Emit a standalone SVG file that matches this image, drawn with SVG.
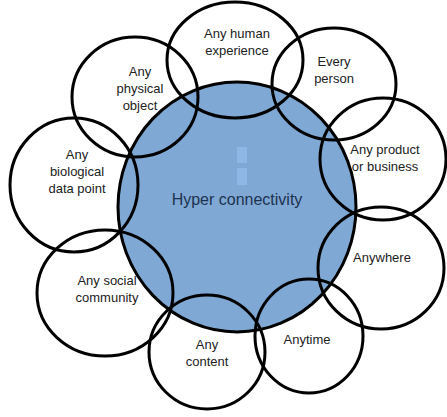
<svg xmlns="http://www.w3.org/2000/svg" width="447" height="417" viewBox="0 0 447 417">
  <style>
    .ring { fill: none; stroke: #000; stroke-width: 3; }
    .hub { fill: #80a8d4; stroke: #000; stroke-width: 3; }
    .lbl { font-family: "Liberation Sans", Arial, sans-serif; font-size: 13px; fill: #222; text-anchor: middle; }
    .hubl { font-family: "Liberation Sans", Arial, sans-serif; font-size: 16px; fill: #1c3350; text-anchor: middle; }
    .tick { fill: #8db8e6; }
  </style>
  <rect width="447" height="417" fill="#fff"/>

  <!-- central hub -->
  <g id="hub">
    <ellipse class="hub" cx="237" cy="207" rx="119" ry="125"/>
    <rect class="tick" x="237" y="147" width="10" height="16"/>
    <rect class="tick" x="237" y="168" width="10" height="17"/>
    <text class="hubl" x="237" y="205">Hyper connectivity</text>
  </g>

  <!-- surrounding rings -->
  <g id="human-experience">
    <ellipse class="ring" cx="235" cy="60" rx="68" ry="58"/>
    <text class="lbl" x="237" y="38">Any human</text>
    <text class="lbl" x="237" y="55">experience</text>
  </g>
  <g id="every-person">
    <ellipse class="ring" cx="334" cy="84" rx="62" ry="56"/>
    <text class="lbl" x="334" y="66">Every</text>
    <text class="lbl" x="334" y="83">person</text>
  </g>
  <g id="physical-object">
    <ellipse class="ring" cx="135" cy="97" rx="63" ry="60"/>
    <text class="lbl" x="140" y="76">Any</text>
    <text class="lbl" x="140" y="93">physical</text>
    <text class="lbl" x="140" y="110">object</text>
  </g>
  <g id="biological-data">
    <ellipse class="ring" cx="74" cy="185" rx="64" ry="67"/>
    <text class="lbl" x="77" y="159">Any</text>
    <text class="lbl" x="77" y="176">biological</text>
    <text class="lbl" x="77" y="193">data point</text>
  </g>
  <g id="product-business">
    <ellipse class="ring" cx="383" cy="159" rx="63" ry="61"/>
    <text class="lbl" x="385" y="154">Any product</text>
    <text class="lbl" x="385" y="171">or business</text>
  </g>
  <g id="anywhere">
    <ellipse class="ring" cx="381" cy="268" rx="63" ry="61"/>
    <text class="lbl" x="382" y="262">Anywhere</text>
  </g>
  <g id="anytime">
    <ellipse class="ring" cx="309" cy="336" rx="54" ry="57"/>
    <text class="lbl" x="307" y="344">Anytime</text>
  </g>
  <g id="content">
    <ellipse class="ring" cx="207" cy="352" rx="58" ry="57"/>
    <text class="lbl" x="207" y="349">Any</text>
    <text class="lbl" x="207" y="366">content</text>
  </g>
  <g id="social-community">
    <ellipse class="ring" cx="105" cy="293" rx="68" ry="63"/>
    <text class="lbl" x="107" y="285">Any social</text>
    <text class="lbl" x="107" y="302">community</text>
  </g>

  <g id="connectors"/>
</svg>
